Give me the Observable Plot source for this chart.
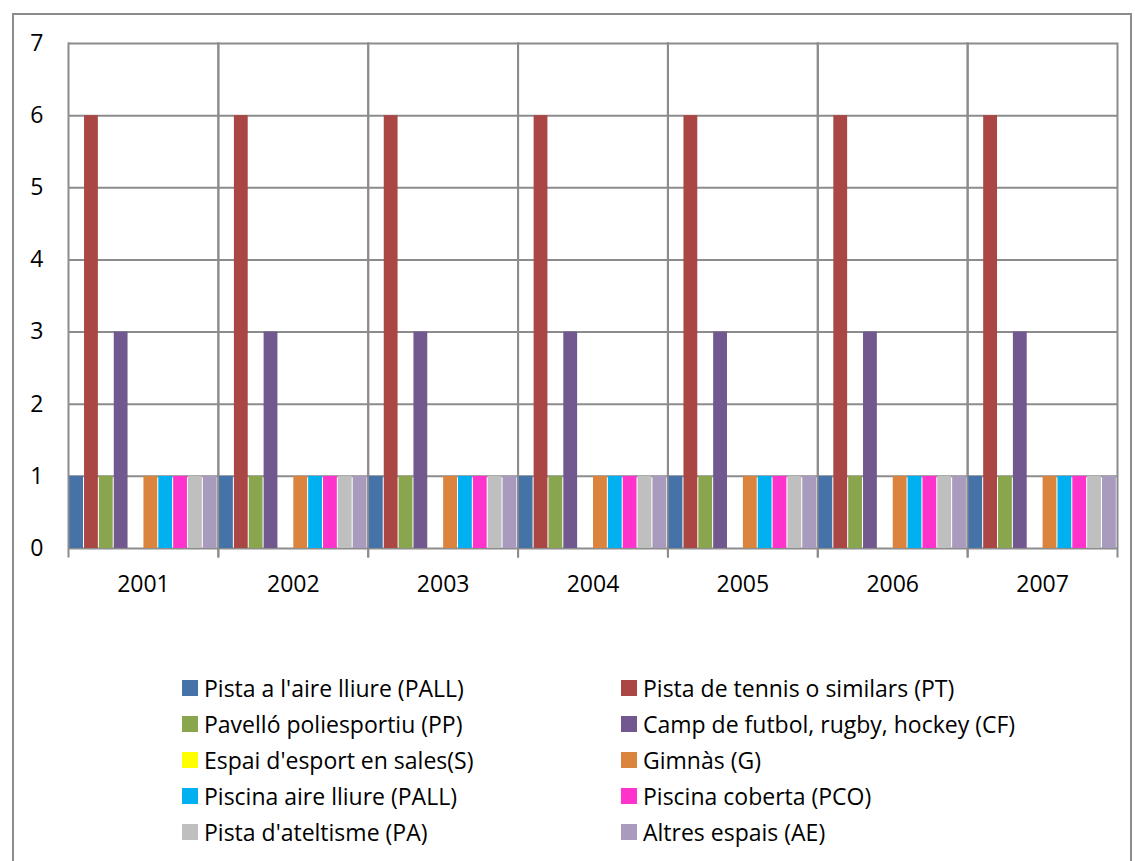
<!DOCTYPE html>
<html>
<head>
<meta charset="utf-8">
<script src="https://cdn.jsdelivr.net/npm/d3@7"></script>
<script src="https://cdn.jsdelivr.net/npm/@observablehq/plot@0.6"></script>
<style>
  html, body { margin: 0; padding: 0; background: #fff; overflow: hidden; }
  body { font-family: "Open Sans", "Noto Sans", sans-serif; position: relative; width: 1135px; height: 861px; }
  #border { position: absolute; left: 12px; top: 13px; width: 1120px; height: 900px; border: 2px solid #8c8c8c; box-sizing: border-box; pointer-events: none; }
  #chart { position: absolute; left: 0; top: 0; }
  #legend { position: absolute; left: 0; top: 670px; width: 1135px; display: grid; grid-template-columns: 439px 490px; column-gap: 0; padding-left: 182px; box-sizing: border-box; }
  .item { height: 36px; display: flex; align-items: center; font-size: 23px; color: #000; white-space: nowrap; }
  .sw { width: 16px; height: 16px; margin-right: 6px; flex: none; }
  #chart svg text { font-size: 23px; }
</style>
</head>
<body>
<div id="border"></div>
<div id="chart"></div>
<div id="legend"></div>
<script>
const years = ["2001", "2002", "2003", "2004", "2005", "2006", "2007"];
const seriesNames = [
  "Pista a l'aire lliure (PALL)",
  "Pista de tennis o similars (PT)",
  "Pavelló poliesportiu (PP)",
  "Camp de futbol, rugby, hockey (CF)",
  "Espai d'esport en sales(S)",
  "Gimnàs (G)",
  "Piscina aire lliure (PALL)",
  "Piscina coberta (PCO)",
  "Pista d'ateltisme (PA)",
  "Altres espais (AE)"
];
const seriesColors = ["#4572A7", "#AA4643", "#89A54E", "#71588F", "#FFFF00", "#DB843D", "#00B0F0", "#FF33CC", "#BFBFBF", "#A99BBD"];
const yTicks = [0, 1, 2, 3, 4, 5, 6, 7];

// values per series, one per year 2001..2007
const pall = [1, 1, 1, 1, 1, 1, 1];
const pt   = [6, 6, 6, 6, 6, 6, 6];
const pp   = [1, 1, 1, 1, 1, 1, 1];
const cf   = [3, 3, 3, 3, 3, 3, 3];
const s    = [0, 0, 0, 0, 0, 0, 0];
const g    = [1, 1, 1, 1, 1, 1, 1];
const pisAll = [1, 1, 1, 1, 1, 1, 1];
const pco  = [1, 1, 1, 1, 1, 1, 1];
const pa   = [1, 1, 1, 1, 1, 1, 1];
const ae   = [1, 1, 1, 1, 1, 1, 1];
const seriesValues = [pall, pt, pp, cf, s, g, pisAll, pco, pa, ae];

const data = [];
years.forEach((yr, i) => {
  seriesNames.forEach((name, j) => {
    data.push({year: yr, series: name, value: seriesValues[j][i]});
  });
});

const gridColor = "#8c8c8c";
const font = '"Open Sans", "Noto Sans", sans-serif';

const chart = Plot.plot({
  width: 1135,
  height: 620,
  marginTop: 43,
  marginBottom: 72,
  marginLeft: 68,
  marginRight: 18,
  style: {fontFamily: font, fontSize: "23px", color: "#000", background: "transparent"},
  fx: {domain: years, paddingInner: 0, paddingOuter: 0, round: false, label: null, tickSize: 0, tickPadding: 27, axis: "bottom"},
  x: {domain: seriesNames, paddingInner: 0.07, paddingOuter: 0.08, round: false, axis: null},
  y: {domain: [0, 7], ticks: yTicks, tickSize: 0, tickPadding: 25, label: null, tickFormat: d => String(d)},
  color: {domain: seriesNames, range: seriesColors},
  marks: [
    Plot.ruleY(yTicks, {stroke: gridColor, strokeWidth: 2}),
    Plot.frame({anchor: "left", stroke: gridColor, strokeWidth: 2, insetBottom: -8}),
    Plot.frame({anchor: "right", stroke: gridColor, strokeWidth: 2, insetBottom: -8}),
    Plot.barY(data, {fx: "year", x: "series", y: "value", fill: "series"})
  ]
});
document.getElementById("chart").appendChild(chart);

const legend = document.getElementById("legend");
seriesNames.forEach((name, j) => {
  const item = document.createElement("div");
  item.className = "item";
  const sw = document.createElement("span");
  sw.className = "sw";
  sw.style.background = seriesColors[j];
  const t = document.createElement("span");
  t.textContent = name;
  item.appendChild(sw);
  item.appendChild(t);
  legend.appendChild(item);
});
</script>
</body>
</html>
